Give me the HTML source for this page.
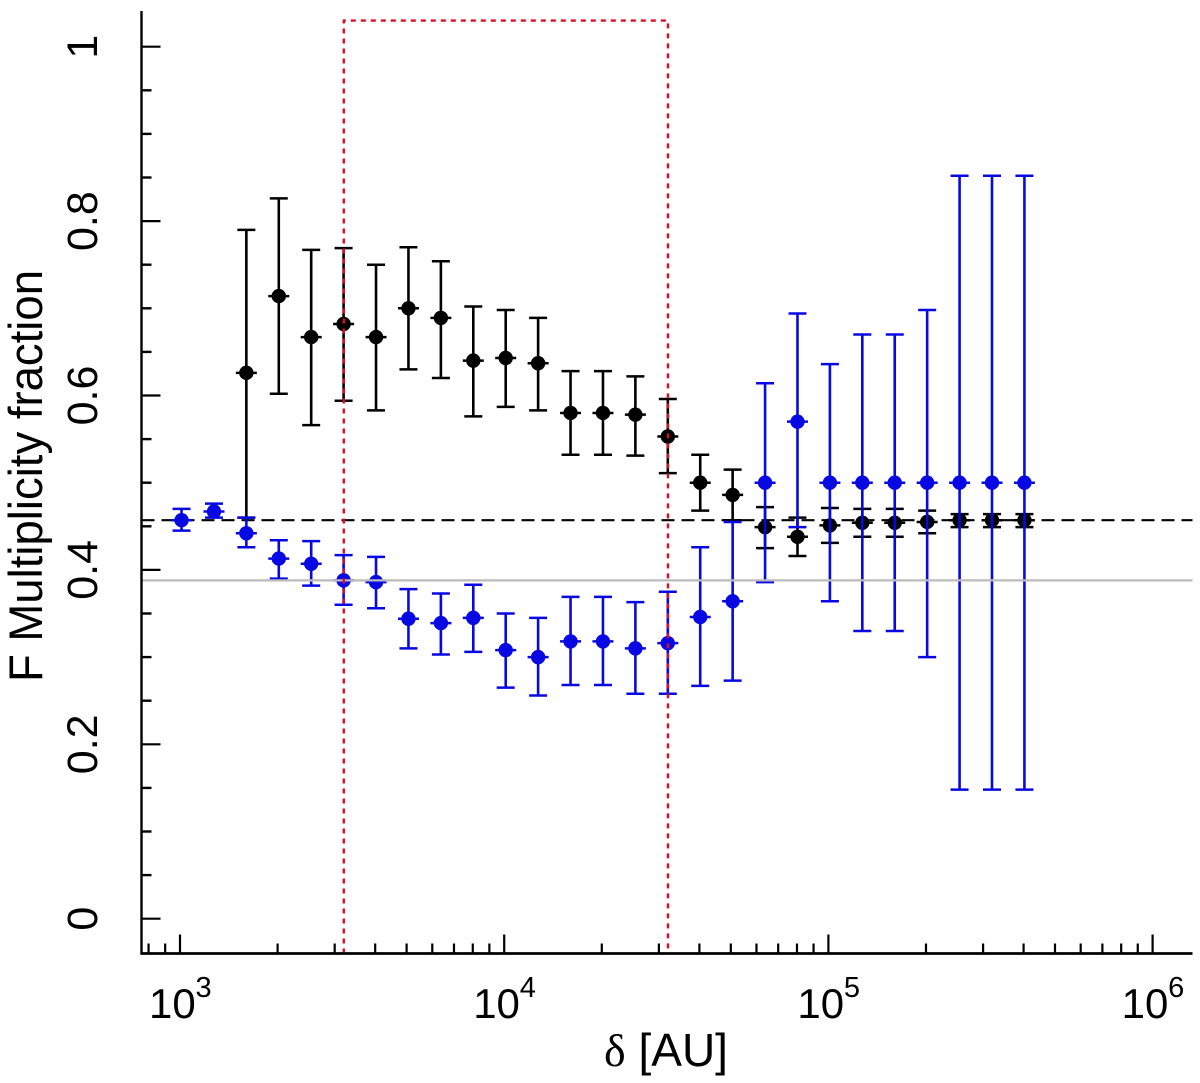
<!DOCTYPE html>
<html lang="en">
<head>
<meta charset="utf-8">
<title>F Multiplicity fraction</title>
<style>
html,body{margin:0;padding:0;background:#fff;}
svg{display:block;}
text{font-family:"Liberation Sans",sans-serif;fill:#000;}
</style>
</head>
<body>
<svg id="chart" xmlns="http://www.w3.org/2000/svg" width="1200" height="1083" viewBox="0 0 1200 1083"></svg>
<script>
// ---- data ----
const deltaAU = [1011,1273,1602,2017,2539,3196,4024,5066,6378,8029,10107,12724,16019,20167,25388,31962,40238,50657,63773,80285,101070,127240,160190,201670,253880,319620,402380];
const blackValue = [null,null,0.626,0.714,0.667,0.682,0.667,0.700,0.689,0.640,0.643,0.637,0.580,0.580,0.578,0.553,0.500,0.486,0.449,0.438,0.451,0.454,0.454,0.455,0.457,0.457,0.457];
const blackUpper = [null,null,0.790,0.826,0.767,0.769,0.750,0.770,0.754,0.702,0.698,0.689,0.628,0.628,0.622,0.596,0.532,0.515,0.472,0.460,0.471,0.470,0.470,0.468,0.464,0.464,0.464];
const blackLower = [null,null,0.460,0.602,0.566,0.594,0.583,0.630,0.620,0.576,0.587,0.583,0.532,0.532,0.531,0.511,0.468,0.457,0.425,0.416,0.431,0.438,0.438,0.442,0.449,0.449,0.449];
const blueValue = [0.457,0.467,0.442,0.413,0.407,0.388,0.386,0.344,0.339,0.345,0.308,0.300,0.318,0.318,0.310,0.316,0.346,0.364,0.500,0.570,0.500,0.500,0.500,0.500,0.500,0.500,0.500];
const blueUpper = [0.470,0.476,0.460,0.434,0.433,0.417,0.415,0.378,0.373,0.383,0.350,0.345,0.369,0.369,0.363,0.375,0.426,0.455,0.614,0.694,0.636,0.670,0.670,0.698,0.852,0.852,0.852];
const blueLower = [0.445,0.460,0.426,0.390,0.382,0.360,0.356,0.310,0.303,0.306,0.265,0.256,0.268,0.268,0.258,0.258,0.267,0.273,0.386,0.449,0.364,0.330,0.330,0.300,0.148,0.148,0.148];
const dashedLevel = [0.457];
const grayLevel = [0.388];
const regionDelta = [3200,32000];
const regionTop = [1.030];
const yMajorTicks = [0,0.2,0.4,0.6,0.8,1];
const yTickLabels = ["0","0.2","0.4","0.6","0.8","1"];
const yMinorTicks = [0.05,0.1,0.15,0.25,0.3,0.35,0.45,0.5,0.55,0.65,0.7,0.75,0.85,0.9,0.95];
const xTickExponents = [3,4,5,6];
const xMinorTicks = [800,900,2000,3000,4000,5000,6000,7000,8000,9000,20000,30000,40000,50000,60000,70000,80000,90000,200000,300000,400000,500000,600000,700000,800000,900000];

// ---- axis functions ----
const NS = 'http://www.w3.org/2000/svg';
const svg = document.getElementById('chart');
const left = 141.5, right = 1192.5, top_ = 11, bottom = 953.5;
function xScale(d){ return 180 + 324.2 * (Math.log10(d) - 3); }
function yScale(v){ return 918.7 - 872 * v; }

function add(tag, attrs, parent){
  const el = document.createElementNS(NS, tag);
  for (const k in attrs) el.setAttribute(k, attrs[k]);
  (parent || svg).appendChild(el);
  return el;
}
function line(x1,y1,x2,y2,stroke,width,parent,dash){
  const a = {x1:x1,y1:y1,x2:x2,y2:y2,stroke:stroke,'stroke-width':width};
  if (dash) a['stroke-dasharray'] = dash;
  return add('line', a, parent);
}

// reference dashed line
const dashedLine = line(left, yScale(dashedLevel[0]), right, yScale(dashedLevel[0]), '#000', 2.2, svg, '13 7');



// series
function drawSeries(name, color, values, uppers, lowers){
  const group = add('g', {});
  
  
  values.forEach(function(v, i){
    if (v === null) return;
    const x = xScale(deltaAU[i]);
    const y = yScale(v);
    const yu = yScale(uppers[i]);
    const yl = yScale(lowers[i]);
    const bar = line(x, yu, x, yl, color, 2.6, group);
    
    
    const capU = line(x - 9, yu, x + 9, yu, color, 2.5, group);
    
    
    const capL = line(x - 9, yl, x + 9, yl, color, 2.5, group);
    
    
    const xbar = line(x - 10.5, y, x + 10.5, y, color, 2.5, group);
    
    
    const dot = add('circle', {cx:x, cy:y, r:7.2, fill:color}, group);
    
    
  });
}
drawSeries('black', '#000', blackValue, blackUpper, blackLower);
drawSeries('blue', '#0808e2', blueValue, blueUpper, blueLower);

// gray reference line
const grayLine = line(left, yScale(grayLevel[0]), right, yScale(grayLevel[0]), '#bbbbbb', 2.2, svg);



// red dotted region
const rx1 = xScale(regionDelta[0]), rx2 = xScale(regionDelta[1]), ry = yScale(regionTop[0]);
const region = add('polyline', {
  points: rx1 + ',' + bottom + ' ' + rx1 + ',' + ry + ' ' + rx2 + ',' + ry + ' ' + rx2 + ',' + bottom,
  fill: 'none', stroke: '#dc0c24', 'stroke-width': 2.4, 'stroke-dasharray': '5 5'
});



// axes
const yAxis = add('g', {});


const yLine = line(left, top_, left, bottom + 1, '#000', 2.4, yAxis);


yMajorTicks.forEach(function(v, i){
  const y = yScale(v);
  const t = line(left, y, left + 19, y, '#000', 2.2, yAxis);
  
  
  const label = add('text', {
    x: 97, y: y, 'font-size': 43, 'text-anchor': 'middle',
    transform: 'rotate(-90 97 ' + y + ')'
  }, yAxis);
  label.textContent = yTickLabels[i];
  
  
});
yMinorTicks.forEach(function(v){
  const y = yScale(v);
  const t = line(left, y, left + 10, y, '#000', 2.4, yAxis);
  
  
});

const xAxis = add('g', {});


const xLine = line(left - 1, bottom, right, bottom, '#000', 2.8, xAxis);


xTickExponents.forEach(function(e){
  const d = Math.pow(10, e);
  const x = xScale(d);
  const t = line(x, bottom, x, bottom - 19, '#000', 2.2, xAxis);
  
  
  const base = add('text', {x: x - 31, y: 1018, 'font-size': 42}, xAxis);
  base.textContent = '10';
  
  
  const sup = add('text', {x: x + 15.5, y: 997, 'font-size': 29}, xAxis);
  sup.textContent = String(e);
  
  
});
xMinorTicks.forEach(function(d){
  const x = xScale(d);
  const t = line(x, bottom, x, bottom - 10, '#000', 2.2, xAxis);
  
  
});

// axis titles
const xTitle = add('text', {x: 666, y: 1066, 'font-size': 46, 'text-anchor': 'middle'});


const deltaGlyph = add('tspan', {'font-family': '"Liberation Serif", serif'}, xTitle);
deltaGlyph.textContent = 'δ';
const xTitleRest = add('tspan', {}, xTitle);
xTitleRest.textContent = ' [AU]';

const yTitle = add('text', {
  x: 42, y: 682, 'font-size': 47, textLength: 412, lengthAdjust: 'spacingAndGlyphs',
  transform: 'rotate(-90 42 682)'
});


yTitle.textContent = 'F Multiplicity fraction';
</script>
</body>
</html>
